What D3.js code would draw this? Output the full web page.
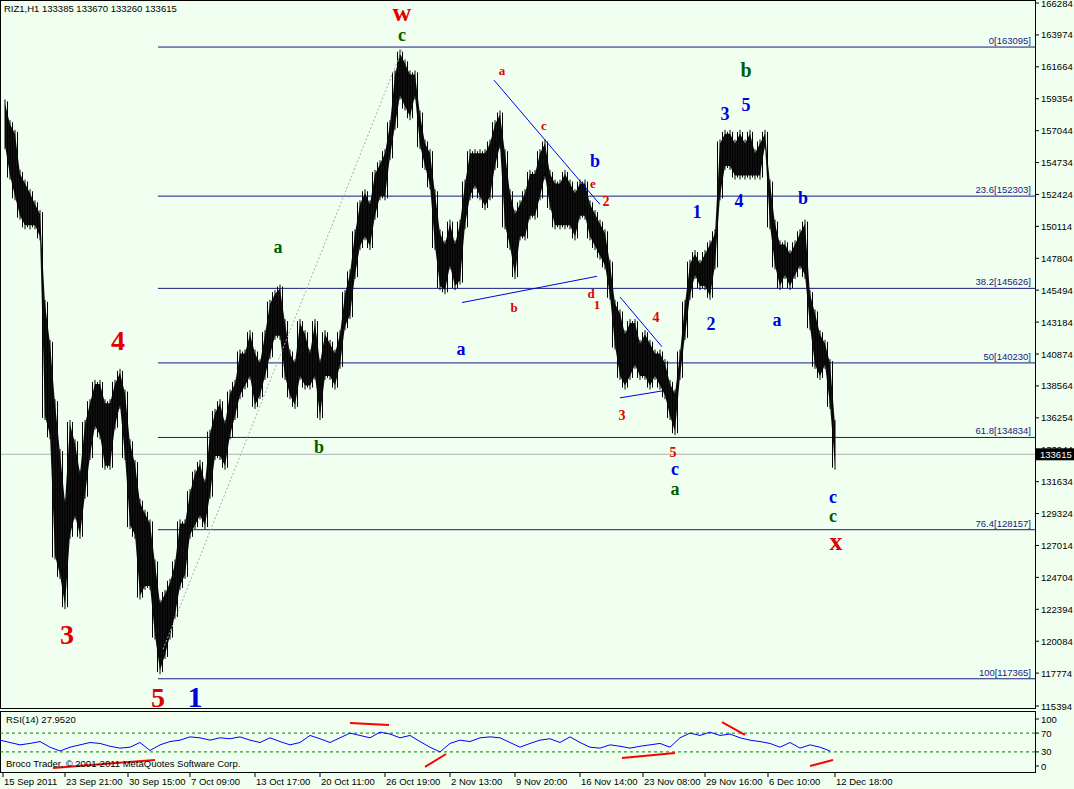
<!DOCTYPE html>
<html><head><meta charset="utf-8">
<script src="https://cdn.jsdelivr.net/npm/d3@7"></script>
<style>body{margin:0;background:#fff}svg{display:block}</style></head>
<body><svg id="c" width="1074" height="789"></svg>
<script>
// bar highs / lows (thousands), one entry per bar step
const highs=[159.3,157.8,157.1,154.2,153.5,152.8,152.0,151.3,144.8,141.9,137.6,134.0,130.4,136.1,134.7,132.5,136.1,137.6,139.0,139.0,137.6,137.6,139.0,139.8,138.3,134.7,133.2,130.4,129.6,128.9,126.0,123.1,123.8,124.6,126.0,128.9,128.9,131.1,132.5,133.2,131.8,135.4,136.9,137.6,136.1,138.3,139.0,141.2,141.2,142.6,141.2,140.5,142.6,144.8,145.5,145.9,143.4,141.2,140.5,143.4,142.6,141.2,143.4,140.5,142.6,141.9,141.2,142.6,145.5,147.0,149.9,152.0,152.8,152.0,154.2,154.9,155.7,157.8,161.4,162.9,162.2,161.4,161.4,158.5,156.4,155.7,152.8,149.9,149.1,150.6,149.1,150.6,153.5,155.7,155.7,155.7,155.7,156.4,157.8,158.5,155.7,152.8,151.3,152.0,152.8,154.2,154.2,155.7,156.4,154.2,153.5,153.5,154.2,153.5,152.8,153.5,153.5,152.0,151.3,150.6,149.9,147.7,144.8,144.1,142.6,143.4,143.4,141.9,142.6,141.9,141.2,141.2,140.5,139.0,138.3,141.2,144.8,147.7,148.4,147.7,148.4,149.1,149.9,156.4,157.1,157.1,156.4,157.1,156.4,157.1,155.7,156.4,157.1,153.5,150.6,149.1,149.1,148.4,149.1,149.9,150.6,145.5,144.1,142.6,141.9,140.5,136.1];
const lows=[155.7,153.5,152.0,150.6,149.9,149.9,149.9,149.1,136.1,134.7,126.0,124.6,122.4,127.5,128.9,127.5,130.4,133.2,135.4,134.7,132.5,132.5,135.4,136.9,133.2,128.2,127.5,123.1,123.8,123.8,120.2,117.7,118.8,120.2,121.7,123.8,124.6,127.5,128.2,128.9,128.2,130.4,133.2,133.2,132.5,134.7,136.1,137.6,138.3,139.0,136.9,137.6,139.0,140.5,141.9,141.9,139.0,137.6,136.9,139.0,138.3,138.3,139.0,136.1,139.0,139.0,138.3,139.8,142.6,143.4,146.3,148.4,149.1,148.4,150.6,152.0,152.0,154.9,157.1,159.3,158.5,157.8,159.3,155.7,154.2,152.8,148.4,145.5,145.2,147.0,145.5,145.9,149.9,152.0,152.8,152.0,151.3,152.0,154.2,155.7,149.9,148.4,146.3,149.1,149.1,150.6,150.6,152.0,153.5,151.3,149.9,149.9,149.9,149.9,149.1,150.6,150.6,149.1,148.4,147.7,147.0,144.8,141.2,139.0,138.3,139.0,139.8,139.0,139.0,138.3,139.0,138.3,137.6,136.1,135.0,139.0,141.9,144.8,146.3,145.5,145.5,144.8,147.0,152.0,154.2,154.2,153.5,153.5,153.5,153.5,153.5,153.5,155.7,149.9,147.0,145.5,146.3,145.5,146.3,147.0,146.3,142.6,139.8,139.0,139.8,136.9,132.5];
const rsi=[55,50,45,48,52,40,32,40,45,50,48,42,38,40,50,33,45,52,55,62,60,55,60,58,62,55,50,60,52,45,50,65,58,50,60,70,65,60,72,68,60,65,52,40,30,48,55,52,60,62,60,50,40,48,55,58,50,62,50,40,38,45,42,38,42,45,48,40,60,70,65,72,65,68,60,55,52,48,40,50,38,45,40,32];
const priceTicks=[166284,163974,161664,159354,157044,154734,152424,150114,147804,145494,143184,140874,138564,136254,133944,131634,129324,127014,124704,122394,120084,117774,115394];
const dateLabels=["15 Sep 2011","23 Sep 21:00","30 Sep 15:00","7 Oct 09:00","13 Oct 17:00","20 Oct 11:00","26 Oct 19:00","2 Nov 13:00","9 Nov 20:00","16 Nov 14:00","23 Nov 08:00","29 Nov 16:00","6 Dec 10:00","12 Dec 18:00"];
const dateIdx=[-0.4,12,24.6,37,50,63,76,89,102,115,127.6,140,152.6,166];
const fibLevels=[["0",163095],["23.6",152303],["38.2",145626],["50",140230],["61.8",134834],["76.4",128157],["100",117365]];
const labels=[["w",79.4,165.0,"#e00000",26],["c",79.4,163.5,"#006000",18],["a",99.4,161.1,"#e00000",13],["b",148.2,160.9,"#006000",20],["3",144,157.8,"#0000e0",18],["5",148.2,158.5,"#0000e0",18],["c",107.8,157.1,"#e00000",13],["b",118,154.4,"#0000e0",18],["e",117.6,152.9,"#e00000",13],["2",120.2,151.6,"#e00000",14],["1",138.4,150.7,"#0000e0",18],["4",146.8,151.5,"#0000e0",18],["b",159.6,151.7,"#0000e0",18],["a",54.6,148.2,"#006000",18],["d",117.2,144.9,"#e00000",13],["1",118.4,144.1,"#e00000",13],["b",101.8,143.9,"#e00000",13],["4",130.2,143.2,"#e00000",14],["2",141.2,142.6,"#0000e0",18],["a",154.4,142.9,"#0000e0",18],["a",91.2,140.8,"#0000e0",18],["4",22.6,141.2,"#e00000",28],["3",123.4,136.1,"#e00000",14],["b",62.8,133.7,"#006000",18],["5",133.6,133.4,"#e00000",14],["c",134,132.1,"#0000e0",18],["a",134,130.7,"#006000",18],["c",165.6,130.1,"#0000e0",18],["c",165.6,128.7,"#006000",18],["x",166.2,126.7,"#e00000",26],["3",12.4,119.9,"#e00000",28],["5",30.6,115.3,"#e00000",28],["1",38,115.3,"#0000e0",30]];
const trendLines=[[91.4,144.6,118.4,146.5,"#0000e0",""],[97.8,160.7,119,151.7,"#0000e0",""],[123,145.0,131.4,141.4,"#0000e0",""],[123,137.7,131.4,138.2,"#0000e0",""],[31.6,119.5,79.4,162.9,"#aaaaaa","2,2"]];
const rsiLines=[[9.6,-4,30,12.8],[69,91.5,76.8,87.2],[84,-2,88.2,25.5],[123.4,17,134,27.7],[143.4,93.6,148,66],[161,0,165.6,12.8]];
const lastPrice=133615;

const svg=d3.select("#c");
const W=1035;
svg.append("rect").attr("width",1074).attr("height",789).attr("fill","#f0fff0");
const x=d3.scaleLinear().domain([-1,206]).range([0,W]);
const y=d3.scaleLinear().domain([115394,166284]).range([706,3]);
const yr=d3.scaleLinear().domain([0,100]).range([766,719]);
const F="'Liberation Sans', Arial, sans-serif";

const fibX0=x(30.6);
fibLevels.forEach(([n,v])=>{
  svg.append("line").attr("x1",fibX0).attr("x2",W).attr("y1",y(v)).attr("y2",y(v)).attr("stroke","#1a1a80").attr("stroke-width",1);
  svg.append("text").attr("x",W-4).attr("y",y(v)-3).attr("text-anchor","end").attr("font-family",F).attr("font-size",9.5).attr("fill","#1a1a80").text(`${n}[${v}]`);
});
svg.append("line").attr("x1",0).attr("x2",W).attr("y1",y(lastPrice)).attr("y2",y(lastPrice)).attr("stroke","#b0b0b0");

const data=highs.map((h,i)=>({i,h:h*1000,l:lows[i]*1000}));
svg.append("path").datum(data).attr("d",d3.area().x(d=>x(d.i)).y0(d=>y(d.l)-4).y1(d=>y(d.h)+4)).attr("fill","#111");
svg.selectAll(".bar").data(data).join("line").attr("x1",d=>x(d.i)).attr("x2",d=>x(d.i)).attr("y1",d=>y(d.h)).attr("y2",d=>y(d.l)).attr("stroke","#000");
svg.selectAll(".bar2").data(data.slice(1)).join("line").attr("x1",d=>x(d.i-0.5)).attr("x2",d=>x(d.i-0.5)).attr("y1",d=>y(Math.max(d.h,highs[d.i-1]*1000))+2).attr("y2",d=>y(Math.min(d.l,lows[d.i-1]*1000))-2).attr("stroke","#000");

trendLines.forEach(([a,b,c,d,col,da])=>{
  svg.append("line").attr("x1",x(a)).attr("y1",y(b*1000)).attr("x2",x(c)).attr("y2",y(d*1000)).attr("stroke",col).attr("stroke-dasharray",da||null);
});

labels.forEach(([t,i,p,col,fs])=>{
  svg.append("text").attr("x",x(i)).attr("y",y(p*1000)).attr("text-anchor","middle").attr("font-family","'Liberation Serif', serif").attr("font-weight","bold").attr("font-size",fs).attr("fill",col).text(t);
});

svg.append("rect").attr("x",0.5).attr("y",0.5).attr("width",W).attr("height",708).attr("fill","none").attr("stroke","#000");
priceTicks.forEach(v=>{
  svg.append("line").attr("x1",W).attr("x2",W+4).attr("y1",y(v)).attr("y2",y(v)).attr("stroke","#000");
  svg.append("text").attr("x",W+6).attr("y",y(v)+3.5).attr("font-family",F).attr("font-size",9.5).text(v);
});
svg.append("rect").attr("x",W+1).attr("y",y(lastPrice)-6).attr("width",38).attr("height",12).attr("fill","#000");
svg.append("text").attr("x",W+5).attr("y",y(lastPrice)+3.5).attr("font-family",F).attr("font-size",9.5).attr("fill","#fff").text(lastPrice);
svg.append("text").attr("x",4).attr("y",12).attr("font-family",F).attr("font-size",9.5).text("RIZ1,H1  133385 133670 133260 133615");

svg.append("rect").attr("x",0.5).attr("y",711.5).attr("width",W).attr("height",61).attr("fill","none").attr("stroke","#000");
[70,30].forEach(v=>svg.append("line").attr("x1",0).attr("x2",W).attr("y1",yr(v)).attr("y2",yr(v)).attr("stroke","#008000").attr("stroke-dasharray","3,3"));
svg.append("path").datum(rsi).attr("d",d3.line().x((d,k)=>x(-1+2*k)).y(d=>yr(d))).attr("fill","none").attr("stroke","#0000ff");
rsiLines.forEach(([a,b,c,d])=>svg.append("line").attr("x1",x(a)).attr("y1",yr(b)).attr("x2",x(c)).attr("y2",yr(d)).attr("stroke","#ff0000").attr("stroke-width",2));
[100,70,30,0].forEach(v=>{
  svg.append("line").attr("x1",W).attr("x2",W+4).attr("y1",yr(v)).attr("y2",yr(v)).attr("stroke","#000");
  svg.append("text").attr("x",W+6).attr("y",yr(v)+3.5).attr("font-family",F).attr("font-size",9.5).text(v);
});
svg.append("text").attr("x",6).attr("y",723).attr("font-family",F).attr("font-size",9.5).text("RSI(14) 27.9520");
svg.append("text").attr("x",6).attr("y",767).attr("font-family",F).attr("font-size",9.5).text("Broco Trader, © 2001-2011 MetaQuotes Software Corp.");

dateLabels.forEach((t,k)=>{
  const px=x(dateIdx[k]);
  svg.append("line").attr("x1",px).attr("x2",px).attr("y1",773).attr("y2",777).attr("stroke","#000");
  svg.append("text").attr("x",px+1).attr("y",785).attr("font-family",F).attr("font-size",9.5).text(t);
});
</script></body></html>
